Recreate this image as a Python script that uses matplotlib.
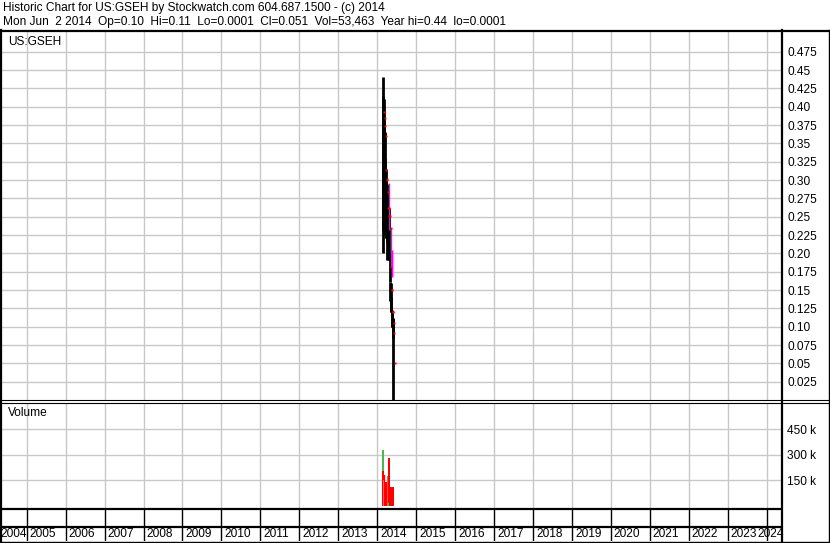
import matplotlib
matplotlib.use("Agg")
import matplotlib.pyplot as plt
import matplotlib.transforms as mtransforms
from matplotlib.lines import Line2D
import pandas as pd

plt.rcParams['font.family'] = ['Liberation Sans', 'DejaVu Sans']

# ---------------- data ----------------
title_line1 = "Historic Chart for US:GSEH by Stockwatch.com 604.687.1500 - (c) 2014"
title_line2 = "Mon Jun  2 2014  Op=0.10  Hi=0.11  Lo=0.0001  Cl=0.051  Vol=53,463  Year hi=0.44  lo=0.0001"
symbol = "US:GSEH"

years = list(range(2004, 2025))
price_ticks = [0.025, 0.05, 0.075, 0.10, 0.125, 0.15, 0.175, 0.20, 0.225, 0.25,
               0.275, 0.30, 0.325, 0.35, 0.375, 0.40, 0.425, 0.45, 0.475]
price_tick_labels = ["0.025", "0.05", "0.075", "0.10", "0.125", "0.15", "0.175", "0.20", "0.225", "0.25",
                     "0.275", "0.30", "0.325", "0.35", "0.375", "0.40", "0.425", "0.45", "0.475"]
vol_ticks = [150000, 300000, 450000]
vol_tick_labels = ["150 k", "300 k", "450 k"]

bar_dates = ['2014-02-24', '2014-02-28', '2014-03-04', '2014-03-10', '2014-03-14', '2014-03-19',
             '2014-03-24', '2014-03-28', '2014-04-02', '2014-04-07', '2014-04-11', '2014-04-16',
             '2014-04-22', '2014-04-28', '2014-05-02', '2014-05-07', '2014-05-12', '2014-05-16',
             '2014-05-21', '2014-05-27', '2014-06-02']
bar_high = [0.415, 0.44, 0.41, 0.38, 0.365, 0.33, 0.315, 0.30, 0.295, 0.28, 0.273, 0.27,
            0.262, 0.20, 0.161, 0.16, 0.14, 0.123, 0.12, 0.112, 0.11]
bar_low = [0.232, 0.20, 0.232, 0.23, 0.232, 0.225, 0.221, 0.221, 0.215, 0.191, 0.191, 0.20,
           0.191, 0.161, 0.135, 0.12, 0.12, 0.10, 0.10, 0.085, 0.0001]
bar_close = [0.393, 0.385, 0.373, 0.36, 0.313, 0.302, 0.30, 0.283, 0.262, 0.262, 0.251, 0.251,
             0.235, 0.182, 0.15, 0.15, 0.12, 0.12, 0.105, 0.092, 0.051]

mag_dates = ['2014-04-18', '2014-05-11', '2014-05-24']
mag_high = [0.296, 0.235, 0.205]
mag_low = [0.232, 0.181, 0.168]

vol_dates = ['2014-02-24', '2014-02-28', '2014-03-05', '2014-03-10', '2014-03-12', '2014-03-17',
             '2014-03-20', '2014-03-24', '2014-03-31', '2014-04-02', '2014-04-07', '2014-04-14',
             '2014-04-22', '2014-04-25', '2014-04-28', '2014-05-05', '2014-05-13', '2014-05-20',
             '2014-05-28']
vol_values = [327000, 205000, 150000, 180000, 75000, 140000, 30000, 120000, 142000, 50000,
              100000, 178000, 282000, 20000, 40000, 60000, 113000, 94000, 111000]
vol_colors = ['green', 'red', 'gray', 'red', 'gray', 'red', 'green', 'red', 'red', 'gray',
              'red', 'green', 'red', 'green', 'green', 'red', 'red', 'red', 'red']

# ---------------- helpers ----------------
def yfrac(d):
    ts = pd.Timestamp(d)
    return ts.year + (ts.dayofyear - 1) / 365.0

W, H = 830, 543
fig = plt.figure(figsize=(W / 100, H / 100), dpi=100)
fig.patch.set_facecolor('white')

def fx(px):
    return px / W

def fy(py):
    return 1 - py / H

PLOT_R = 781
X0, X1 = 2004.315, 2024.367
GRID = '#c8c8c8'
COLMAP = {'green': '#4cb84c', 'red': '#ff0000', 'gray': '#a0a0a0'}
FS = 8.6

axp = fig.add_axes([0, fy(400), fx(PLOT_R), (400 - 31) / H])
axp.set_xlim(X0, X1)
axp.set_ylim(0, 0.5032)
axv = fig.add_axes([0, fy(509), fx(PLOT_R), (509 - 403) / H])
axv.set_xlim(X0, X1)
axv.set_ylim(-17500, 602000)
axs = fig.add_axes([0, fy(527), fx(PLOT_R), (527 - 509) / H])
axs.set_xlim(X0, X1)
axs.set_ylim(0, 1)
axl = fig.add_axes([0, fy(541), fx(PLOT_R), (541 - 527) / H])
axl.set_xlim(X0, X1)
axl.set_ylim(0, 1)

for ax in (axp, axv, axs, axl):
    for s in ax.spines.values():
        s.set_visible(False)
    ax.set_xticks([])
    ax.tick_params(length=0)

year_x = years[1:]
for ax in (axp, axv):
    for yx in year_x:
        ax.axvline(yx, color=GRID, lw=1.0, zorder=0)
for ax in (axs, axl):
    ax.set_yticks([])
    for yx in year_x:
        ax.axvline(yx, color='black', lw=1.0, zorder=0)

axp.yaxis.tick_right()
axp.set_yticks(price_ticks)
axp.set_yticklabels(price_tick_labels, fontsize=FS)
axp.tick_params(axis='y', pad=4.5)
for t in price_ticks:
    axp.axhline(t, color=GRID, lw=1.0, zorder=0)

axv.yaxis.tick_right()
axv.set_yticks(vol_ticks)
axv.set_yticklabels(vol_tick_labels, fontsize=FS)
axv.tick_params(axis='y', pad=4.5)
for t in vol_ticks:
    axv.axhline(t, color=GRID, lw=1.0, zorder=0)

bx = [yfrac(d) for d in bar_dates]
axp.vlines(bx, bar_low, bar_high, color='black', lw=2.0, zorder=3)
mx = [yfrac(d) for d in mag_dates]
axp.vlines(mx, mag_low, mag_high, color='#ff00ff', lw=1.0, zorder=4)
off = mtransforms.offset_copy(axp.transData, fig=fig, x=1.5, y=0, units='dots')
axp.plot(bx, bar_close, linestyle='none', marker='s', ms=1.4, mew=0,
         color='#ff0000', transform=off, zorder=5)

vx = [yfrac(d) for d in vol_dates]
axv.bar(vx, vol_values, width=0.05, color=[COLMAP[c] for c in vol_colors],
        linewidth=0, zorder=3)

fig.text(fx(3), fy(8), title_line1, fontsize=FS, va='center', ha='left')
fig.text(fx(3), fy(22), title_line2, fontsize=FS, va='center', ha='left')
fig.text(fx(8), fy(42), symbol, fontsize=FS, va='center', ha='left')
fig.text(fx(8), fy(413), "Volume", fontsize=FS, va='center', ha='left')

for yv in years:
    if yv == 2004:
        axl.text(0, 0.5, str(yv), fontsize=FS, va='center', ha='left',
                 transform=mtransforms.blended_transform_factory(fig.transFigure, axl.transAxes))
        continue
    if yv == 2024:
        axl.text(fx(784), 0.5, str(yv), fontsize=FS, va='center', ha='right',
                 transform=mtransforms.blended_transform_factory(fig.transFigure, axl.transAxes))
        continue
    t = axl.text(yv, 0.5, str(yv), fontsize=FS, va='center', ha='left', clip_on=False)
    t.set_transform(mtransforms.offset_copy(axl.transData, fig=fig, x=3, y=0, units='dots'))

def hline(py, x0, x1, lw):
    fig.add_artist(Line2D([fx(x0), fx(x1)], [fy(py), fy(py)], color='black', lw=lw))

def vline(px, y0, y1, lw):
    fig.add_artist(Line2D([fx(px), fx(px)], [fy(y0), fy(y1)], color='black', lw=lw))

hline(30.5, 0, W, 1.6)
hline(400, 0, W, 0.8)
hline(402.5, 0, W, 0.8)
hline(509, 0, PLOT_R, 1.6)
hline(526.5, 0, PLOT_R, 1.6)
hline(541.5, 0, W, 1.0)
vline(0.5, 30, 542, 1.6)
vline(782, 30, 542, 1.6)
vline(829.3, 30, 542, 1.0)

fig.savefig("out.png", dpi=100, facecolor='white')
